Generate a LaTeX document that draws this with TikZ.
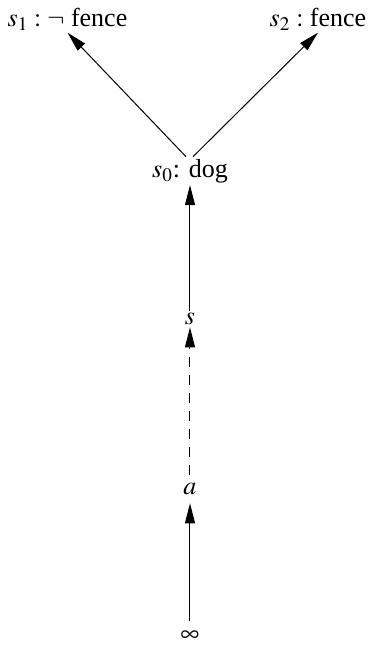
\documentclass[tikz,border=0pt]{standalone}
\usepackage{mathptmx}
\usepackage{fontspec}
\setmainfont{Liberation Serif}
\usepackage{tikz}
\usetikzlibrary{arrows.meta, positioning}

\begin{document}
\begin{tikzpicture}[on grid, >={Triangle[length=10pt, width=5pt]}, font=\fontsize{13}{15}\selectfont]
    \tikzstyle{world} = [inner sep=1pt, text centered]
    \tikzstyle{link} = [draw, ->, line width=0.5pt]

    \useasboundingbox (-95pt,85.45pt) rectangle (91pt,-241.55pt);

    \node [world] (dog) {$s_0$: dog};

    \node [world, above left=75.9pt and 61.25pt of dog] (notfence) {$s_1 : \neg$ fence};
    \node [world, above right=75.9pt and 64pt of dog] (fence) {$s_2 :$ fence};

    \node [world, below=74.1pt of dog] (s) {$s$};
    \node [world, below=85pt of s] (a) {$a$};
    \node [world, below=73.5pt of a] (inf) {$\infty$};

    \path [link] ([xshift=-2pt]dog.north) -- (notfence.south);
    \path [link] ([xshift=1.5pt]dog.north) -- (fence.south);

    \path [link] (s) -- (dog);
    \path [link, dash pattern=on 5pt off 4pt, shorten <=3pt] (a) -- (s);
    \path [link, shorten <=3.5pt, shorten >=3pt] (inf) -- (a);
\end{tikzpicture}
\end{document}
